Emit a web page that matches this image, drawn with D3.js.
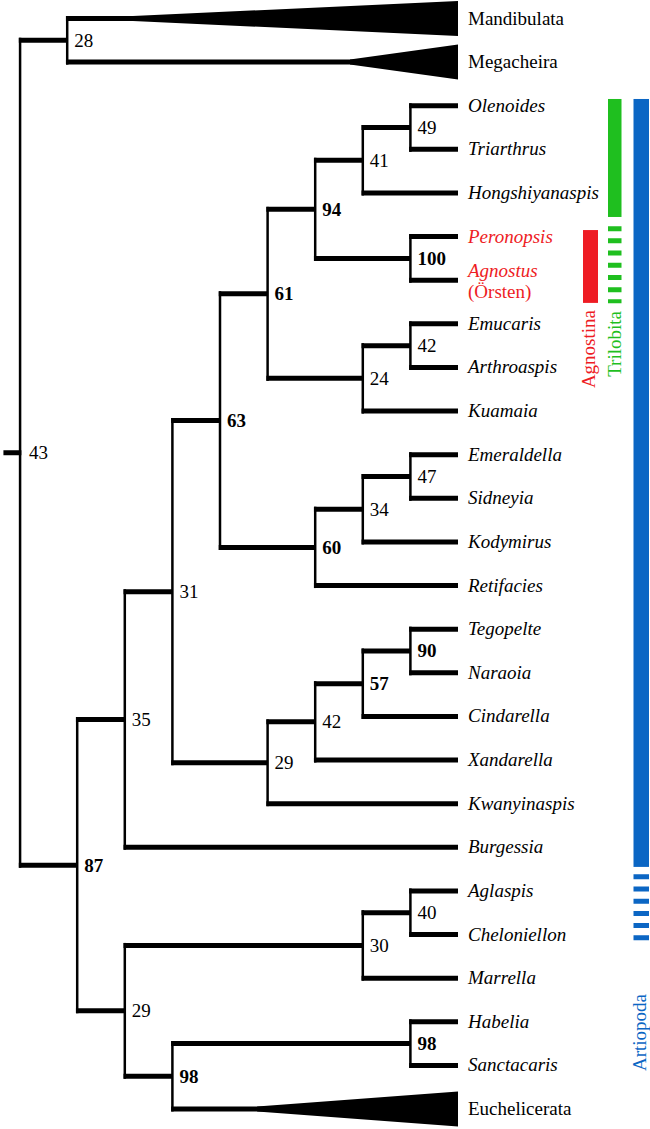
<!DOCTYPE html>
<html><head><meta charset="utf-8">
<script src="https://cdn.jsdelivr.net/npm/d3@7"></script>
<style>
body{margin:0;background:#fff}
</style>
</head><body>
<svg id="chart" width="650" height="1129"></svg>
<script>
// ---- data ----
const taxa = ["Mandibulata","Megacheira","Olenoides","Triarthrus","Hongshiyanaspis","Peronopsis","Agnostus",
  "Emucaris","Arthroaspis","Kuamaia","Emeraldella","Sidneyia","Kodymirus","Retifacies","Tegopelte","Naraoia",
  "Cindarella","Xandarella","Kwanyinaspis","Burgessia","Aglaspis","Cheloniellon","Marrella","Habelia","Sanctacaris","Euchelicerata"];
const taxonParent = ["n28","n28","n49","n49","n41","n100","n100",
  "n42a","n42a","n24","n47","n47","n34","n60","n90","n90",
  "n57","n42b","n29a","n35","n40","n40","n30","n98a","n98a","n98b"];
const nodeIds     = ["root","n28","n87","n35","n29b","n31","n63","n61","n94","n41","n49","n100","n24","n42a","n60","n34","n47","n29a","n42b","n57","n90","n30","n40","n98b","n98a"];
const nodeParents = ["",    "root","root","n87","n87","n35","n31","n63","n61","n94","n41","n94","n61","n24","n63","n60","n34","n31","n29a","n42b","n57","n29b","n30","n29b","n98b"];
const nodeSupport = [43,28,87,35,29,31,63,61,94,41,49,100,24,42,60,34,47,29,42,57,90,30,40,98,98];
const nodeLevels  = [-0.2,0.79,1,2,2,3,4,5,6,7,8,8,7,8,6,7,8,5,6,7,8,7,8,3,8];
const tipLevel = 9;
const rootStubLevel = -0.55;
const collapsedClades = ["Mandibulata","Megacheira","Euchelicerata"];
const wedgeStartLevel = [2.17, 6.73, 4.78];
const redTaxa = ["Peronopsis","Agnostus"];
const supportBoldMin = 50;
// bracket bars (extent in taxon-index units)
const groupNames  = ["Agnostina","Trilobita","Artiopoda"];
const groupSolid  = [[4.85,6.52],[1.845,4.55],[1.845,19.45]];
const groupDashed = [null,[4.76,6.53],[19.62,21.22]];

// ---- scales ----
const FONT = "'Liberation Serif','Times New Roman',Times,'DejaVu Serif',serif";
const svg = d3.select("#chart");
const yS = d3.scaleLinear().domain([0, taxa.length-1]).range([18.5, 1109]);
const xS = d3.scaleLinear().domain([0, tipLevel]).range([29.6, 458]);
const colors = {Agnostina:"#ee1c24", Trilobita:"#1fbf1f", Artiopoda:"#0b66c4"};
const barX = {Agnostina:[583,598], Trilobita:[608,621.5], Artiopoda:[633.5,649]};

// ---- hierarchy ----
const rows = nodeIds.map((id,i)=>({id, parentId: nodeParents[i]||null, support: nodeSupport[i], level: nodeLevels[i]}))
  .concat(taxa.map((t,i)=>({id:t, parentId: taxonParent[i], level: tipLevel, index:i})));
const root = d3.stratify().id(d=>d.id).parentId(d=>d.parentId)(rows);
root.eachAfter(n=>{
  if(!n.children) n.py = yS(n.data.index);
  else n.py = d3.mean(n.children, c=>c.py);
  n.px = xS(n.data.level);
});

const HW = 5, VW = 2.5;
const g = svg.append("g").attr("font-family", FONT);

// horizontal branches
root.descendants().filter(n=>n.parent).forEach(n=>{
  g.append("line").attr("x1", n.parent.px - VW/2).attr("x2", n.px)
    .attr("y1", n.py).attr("y2", n.py).attr("stroke","#000").attr("stroke-width",HW);
});
// root stub
g.append("line").attr("x1", xS(rootStubLevel)).attr("x2", root.px + VW/2)
  .attr("y1", root.py).attr("y2", root.py).attr("stroke","#000").attr("stroke-width",HW);
// vertical connectors
root.descendants().filter(n=>n.children).forEach(n=>{
  const ys = n.children.map(c=>c.py);
  g.append("line").attr("x1", n.px).attr("x2", n.px)
    .attr("y1", d3.min(ys)-HW/2).attr("y2", d3.max(ys)+HW/2)
    .attr("stroke","#000").attr("stroke-width",VW);
});
// wedges for collapsed clades
collapsedClades.forEach((c,i)=>{
  const yy = yS(taxa.indexOf(c)), x0 = xS(wedgeStartLevel[i]), x1 = xS(tipLevel);
  g.append("path").attr("d", `M${x0},${yy-HW/2}L${x1},${yy-17.5}L${x1},${yy+17.5}L${x0},${yy+HW/2}Z`).attr("fill","#000");
});

// support labels
root.descendants().filter(n=>n.children).forEach(n=>{
  g.append("text").attr("x", n.px + (n===root ? 9 : 7)).attr("y", n.py + 6.5)
    .attr("font-family", FONT)
    .attr("font-size", 19).attr("font-weight", n.data.support >= supportBoldMin ? "bold" : "normal")
    .text(n.data.support);
});

// taxon labels
taxa.forEach((t,i)=>{
  const yy = yS(i);
  const italic = !collapsedClades.includes(t);
  const col = redTaxa.includes(t) ? colors.Agnostina : "#000";
  g.append("text").attr("x", 468).attr("y", t==="Agnostus" ? yy-3 : yy+6)
    .attr("font-family", FONT)
    .attr("font-size",19).attr("fill",col).attr("font-style", italic ? "italic" : "normal").text(t);
  if(t==="Agnostus"){
    g.append("text").attr("x",468).attr("y",yy+18).attr("font-family", FONT)
      .attr("font-size",19).attr("fill",col).text("(Örsten)");
  }
});

// bars
groupNames.forEach((name,i)=>{
  const [xa,xb] = barX[name];
  const s = groupSolid[i];
  g.append("rect").attr("x",xa).attr("width",xb-xa).attr("y",yS(s[0])).attr("height",yS(s[1])-yS(s[0])).attr("fill",colors[name]);
  const d = groupDashed[i];
  if(d){
    g.append("line").attr("x1",(xa+xb)/2).attr("x2",(xa+xb)/2).attr("y1",yS(d[0])).attr("y2",yS(d[1]))
      .attr("stroke",colors[name]).attr("stroke-width",xb-xa).attr("stroke-dasharray","5 7.2");
  }
});
// rotated group labels
const labelPos = {Agnostina:[594.5,310], Trilobita:[620.5,311], Artiopoda:[645.5,994]};
groupNames.forEach(name=>{
  const [lx,ly] = labelPos[name];
  g.append("text").attr("transform",`translate(${lx},${ly}) rotate(-90)`).attr("text-anchor","end")
    .attr("font-family", FONT)
    .attr("font-size",19).attr("fill",colors[name]).text(name);
});
</script>
</body></html>
